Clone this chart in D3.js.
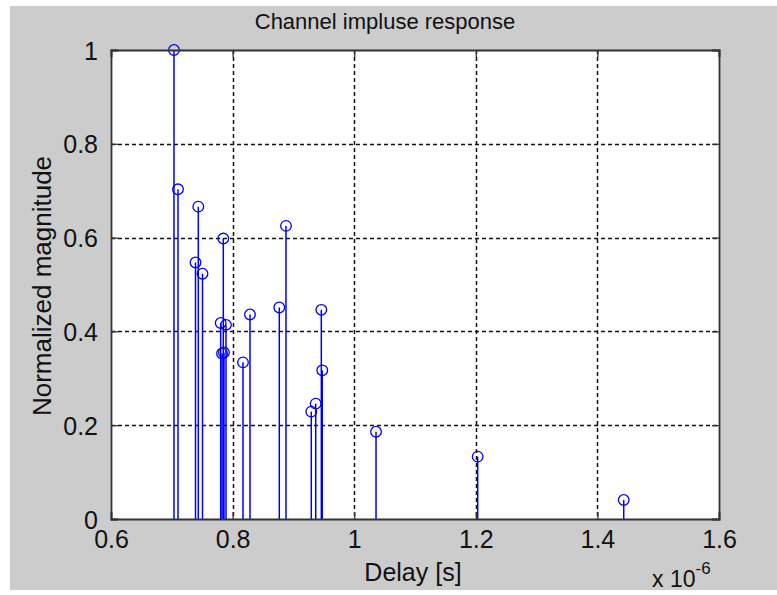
<!DOCTYPE html>
<html>
<head>
<meta charset="utf-8">
<script src="https://cdn.jsdelivr.net/npm/d3@7/dist/d3.min.js"></script>
<style>
  html, body { margin: 0; padding: 0; background: #ffffff; }
  svg { display: block; font-family: "Liberation Sans", Arial, Helvetica, sans-serif; }
</style>
</head>
<body>
<svg id="chart" width="777" height="595"></svg>
<script>
// Multipath taps: delay (in units of 1e-6 s) and normalized magnitude
const delays = [0.7036, 0.7102, 0.7390, 0.7436, 0.7505, 0.7804, 0.7826, 0.7847, 0.7858, 0.7891,
                0.8171, 0.8286, 0.8768, 0.8878, 0.9294, 0.9367, 0.9459, 0.9475, 1.0359, 1.2031, 1.4433];
const magnitudes = [1.000, 0.703, 0.547, 0.666, 0.523, 0.418, 0.353, 0.598, 0.355, 0.414,
                    0.334, 0.436, 0.451, 0.625, 0.229, 0.246, 0.446, 0.317, 0.186, 0.133, 0.0405];

const xTicks = [0.6, 0.8, 1.0, 1.2, 1.4, 1.6];
const yTicks = [0, 0.2, 0.4, 0.6, 0.8, 1];
const xTickLabels = ["0.6", "0.8", "1", "1.2", "1.4", "1.6"];
const yTickLabels = ["0", "0.2", "0.4", "0.6", "0.8", "1"];

const titleText = "Channel impluse response";
const xLabelText = "Delay [s]";
const yLabelText = "Normalized magnitude";

const svg = d3.select("#chart");
const W = 777, H = 595;
const plot = { left: 111, right: 719, top: 50, bottom: 519 };

// figure background
svg.append("rect").attr("x", 0).attr("y", 0).attr("width", W).attr("height", H).attr("fill", "#ffffff");
svg.append("rect").attr("x", 10).attr("y", 6).attr("width", W - 10).attr("height", 584).attr("fill", "#cccccc");

const x = d3.scaleLinear().domain([0.6, 1.6]).range([plot.left, plot.right]);
const y = d3.scaleLinear().domain([0, 1]).range([plot.bottom, plot.top]);

// axes area
svg.append("rect")
  .attr("x", plot.left).attr("y", plot.top)
  .attr("width", plot.right - plot.left).attr("height", plot.bottom - plot.top)
  .attr("fill", "#ffffff");

// dashed grid
const grid = svg.append("g").attr("stroke", "#111").attr("stroke-width", 1.5).attr("stroke-dasharray", "4,3");
grid.selectAll("line.gx").data(xTicks.slice(1, -1)).join("line")
  .attr("x1", d => Math.round(x(d)) + 0.5).attr("x2", d => Math.round(x(d)) + 0.5)
  .attr("y1", plot.top).attr("y2", plot.bottom);
grid.selectAll("line.gy").data(yTicks.slice(1, -1)).join("line")
  .attr("y1", d => Math.round(y(d)) + 0.5).attr("y2", d => Math.round(y(d)) + 0.5)
  .attr("x1", plot.left).attr("x2", plot.right);

// stems and markers
const stems = svg.append("g");
const taps = delays.map((d, i) => ({ d, m: magnitudes[i] }));
stems.selectAll("line").data(taps).join("line")
  .attr("x1", t => x(t.d)).attr("x2", t => x(t.d))
  .attr("y1", y(0)).attr("y2", t => y(t.m))
  .attr("stroke", "#0000ff").attr("stroke-width", 1.5);
stems.selectAll("circle").data(taps).join("circle")
  .attr("cx", t => x(t.d)).attr("cy", t => y(t.m)).attr("r", 5.3)
  .attr("fill", "none").attr("stroke", "#0000ff").attr("stroke-width", 1.3);

// axes with inward ticks on all four sides
const tickLen = 7;
const axisColor = "#333";
const bottomAxis = d3.axisBottom(x).tickValues(xTicks).tickSize(-tickLen).tickFormat((d, i) => xTickLabels[i]).tickPadding(12);
const leftAxis = d3.axisLeft(y).tickValues(yTicks).tickSize(-tickLen).tickFormat((d, i) => yTickLabels[i]).tickPadding(13);
const topAxis = d3.axisTop(x).tickValues(xTicks).tickSize(-tickLen).tickFormat("");
const rightAxis = d3.axisRight(y).tickValues(yTicks).tickSize(-tickLen).tickFormat("");

function styleAxis(g) {
  g.select(".domain").attr("stroke", axisColor).attr("stroke-width", 1.8);
  g.selectAll(".tick line").attr("stroke", axisColor).attr("stroke-width", 1.3);
  g.selectAll(".tick text").attr("fill", "#111").attr("font-size", 25)
    .attr("font-family", "'Liberation Sans', Arial, sans-serif");
}
svg.append("g").attr("transform", `translate(0,${plot.bottom})`).call(bottomAxis).call(styleAxis)
  .call(g => g.selectAll(".tick text").attr("dy", "0.71em").attr("y", 11));
svg.append("g").attr("transform", `translate(${plot.left},0)`).call(leftAxis).call(styleAxis)
  .call(g => g.selectAll(".tick text").attr("dy", "0.36em"));
svg.append("g").attr("transform", `translate(0,${plot.top})`).call(topAxis).call(styleAxis);
svg.append("g").attr("transform", `translate(${plot.right},0)`).call(rightAxis).call(styleAxis);

// title and labels
svg.append("text").attr("x", 385).attr("y", 29).attr("text-anchor", "middle")
  .attr("font-size", 22).attr("fill", "#111").text(titleText);
svg.append("text").attr("x", 413).attr("y", 581).attr("text-anchor", "middle")
  .attr("font-size", 25).attr("fill", "#111").text(xLabelText);
svg.append("text").attr("transform", "translate(51,286) rotate(-90)").attr("text-anchor", "middle")
  .attr("font-size", 26).attr("fill", "#111").text(yLabelText);

// exponent for the delay axis
const expo = svg.append("text").attr("x", 652).attr("y", 587).attr("font-size", 23).attr("fill", "#111");
expo.append("tspan").text("x 10");
expo.append("tspan").attr("font-size", 17).attr("dy", -13).text("-6");
</script>
</body>
</html>
